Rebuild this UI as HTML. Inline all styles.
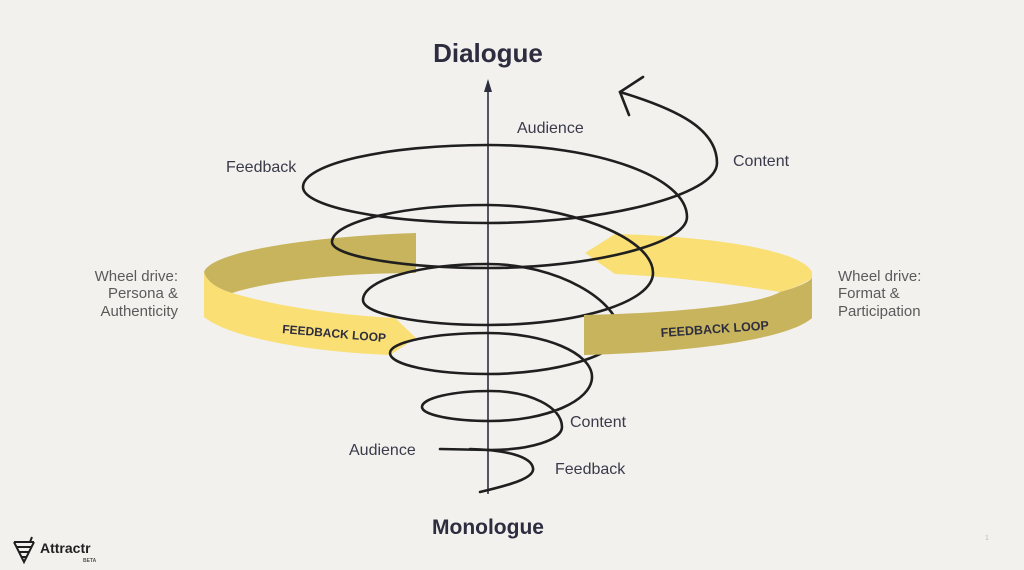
<!DOCTYPE html>
<html><head><meta charset="utf-8"><style>
html,body{margin:0;padding:0;background:#f2f1ee;}
svg{display:block;}
text{font-family:"Liberation Sans",sans-serif;}
</style></head><body>
<svg width="1024" height="570" viewBox="0 0 1024 570" xmlns="http://www.w3.org/2000/svg">
<rect width="1024" height="570" fill="#f2f1ee"/>
<path d="M416,233 L416,273 C340,273 270,281 232,293 C215,288 206,280 204,272 C212,250 320,236 416,233 Z" fill="#c7b45c"/>
<path d="M204,272 C206,280 215,288 232,293 C280,307 340,315 395,318 L416,338 L390,355 C310,352 230,338 204,317 Z" fill="#f9df74"/>
<path d="M585,253 L615,234 C700,236 800,248 812,272 L812,278 C805,283 795,288 780,292 C720,282 660,276 615,274 Z" fill="#f9df74"/>
<line x1="488" y1="86" x2="488" y2="494" stroke="#2d2d3f" stroke-width="1.6"/>
<path d="M484,92 L488,79 L492,92 Z" fill="#2d2d3f"/>
<g fill="none" stroke="#1f1f1f" stroke-width="2.6" stroke-linecap="round">
<path d="M440,449 L490,450"/>
<path d="M480,492 C510,485 535,478 533,468 C531,456 505,450 470,449"/>
<path d="M490,450 C530,450 562,440 562,427 C562,407 530,391 490,391 C453,391 422,398 422,407 C422,415 453,421 490,421 C546,421 592,401 592,377 C592,353 545,333 488,333 C434,333 390,342 390,353 C390,365 434,374 488,374 C556,374 618,355 620,335 C620,300 556,264 488,264 C419,264 363,280 363,300 C363,314 419,325 488,325 C579,325 653,302 653,273 C653,236 562,205 488,205 C402,205 332,222 332,242 C332,256 402,268 488,268 C586,268 687,245 687,217 C687,177 597,145 488,145 C386,145 303,164 303,187 C303,207 386,223 488,223 C602,223 717,196 717,163 C717,130 680,110 620,92"/>
<path d="M643,77 L620,92 L629,115"/>
</g>
<path d="M584,315 C680,313 760,304 780,292 C795,288 808,283 812,278 L812,318 C790,338 700,352 584,355 Z" fill="#c7b45c"/>
<text x="282" y="333" font-size="12" font-weight="bold" fill="#2d2d3f" transform="rotate(5 282 333)">FEEDBACK LOOP</text>
<text x="661" y="337" font-size="12.5" font-weight="bold" fill="#2d2d3f" transform="rotate(-4 661 337)">FEEDBACK LOOP</text>
<text x="488" y="62" font-size="26" font-weight="bold" fill="#2d2d3f" text-anchor="middle">Dialogue</text>
<text x="488" y="534" font-size="21" font-weight="bold" fill="#2d2d3f" text-anchor="middle">Monologue</text>
<g font-size="16" fill="#3a3a4a">
<text x="517" y="133">Audience</text>
<text x="226" y="172">Feedback</text>
<text x="733" y="166">Content</text>
<text x="570" y="427">Content</text>
<text x="349" y="455">Audience</text>
<text x="555" y="474">Feedback</text>
</g>
<g font-size="15" fill="#5a5a5a">
<text x="178" y="281" text-anchor="end">Wheel drive:</text>
<text x="178" y="298" text-anchor="end">Persona &amp;</text>
<text x="178" y="316" text-anchor="end">Authenticity</text>
<text x="838" y="281">Wheel drive:</text>
<text x="838" y="298">Format &amp;</text>
<text x="838" y="316">Participation</text>
</g>
<g stroke="#1f1f1f" stroke-width="2" fill="none">
<path d="M14,542 L34,542 M16,547 L32,547 M19,552 L29,552 M22,557 L27,557 M14,542 L24,562 L34,542"/>
<path d="M30,542 L32,537"/>
</g>
<text x="40" y="553" font-size="14" font-weight="bold" fill="#1f1f1f">Attractr</text>
<text x="83" y="562" font-size="5" font-weight="bold" fill="#555">BETA</text>
<text x="985" y="540" font-size="7" fill="#bbb">1</text>
</svg>
</body></html>
